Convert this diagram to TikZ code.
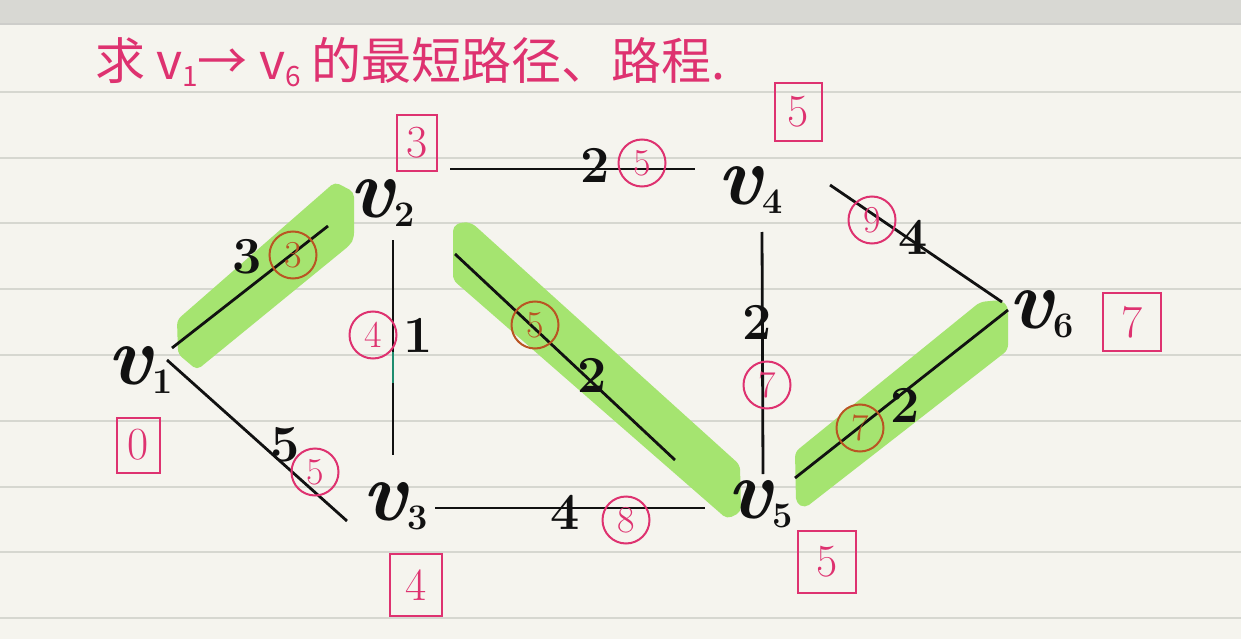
\documentclass[tikz,border=0pt]{standalone}
\usepackage{fontspec}
\newfontfamily\cjk{Noto Sans CJK SC}
\definecolor{paper}{RGB}{245,244,238}
\definecolor{topgray}{RGB}{216,216,211}
\definecolor{rulecol}{RGB}{214,215,208}
\definecolor{pinkink}{RGB}{222,50,112}
\definecolor{brownink}{RGB}{185,85,35}
\definecolor{hl}{RGB}{165,228,112}
\definecolor{ink}{RGB}{17,17,17}
\definecolor{tealink}{RGB}{30,140,110}
\tikzset{
  vlabel/.style={inner sep=0pt, text=ink, font=\fontsize{84}{84}\selectfont\bfseries\itshape},
  wt/.style={inner sep=0pt, text=ink, font=\fontsize{52}{52}\selectfont\bfseries},
  circnum/.style={circle, draw=pinkink, line width=2pt, minimum size=47pt, inner sep=0pt, text=pinkink, font=\fontsize{38}{38}\selectfont},
  circbrown/.style={circnum, draw=brownink, text=brownink},
  boxnum/.style={draw=pinkink, line width=2pt, inner sep=0pt, text=pinkink, font=\fontsize{46}{46}\selectfont},
  edgeline/.style={line width=2.8pt, draw=ink},
  hlband/.style={fill=hl, rounded corners=5pt},
  ruleline/.style={draw=rulecol, line width=2.5pt}
}
\newcommand{\vsub}[1]{{\fontsize{36}{36}\selectfont\upshape\raisebox{-9pt}{#1}}}
\newcommand{\tsub}[1]{{\fontsize{28}{28}\selectfont\raisebox{-7pt}{#1}}}
\begin{document}
\begin{tikzpicture}[x=1pt,y=-1pt]
\useasboundingbox (0,0) rectangle (1241,639);
% paper
\fill[paper] (0,0) rectangle (1241,639);
\fill[topgray] (0,0) rectangle (1241,24);
\draw[draw=rulecol!80!black!60, line width=2.5pt] (0,24) -- (1241,24);
\foreach \yy in {92,158,223,289,355,421,487,552,618}
  \draw[ruleline] (0,\yy) -- (1241,\yy);

% title
\node[anchor=west, inner sep=0pt, text=pinkink, font=\cjk\fontsize{50}{50}\selectfont] (title) at (95,62)
  {求 v\tsub{1}→ v\tsub{6} 的最短路径、路程.};

% highlight bands
\fill[hlband] (177,320) -- (178,354) -- (197,370) -- (350,245) -- (354,238) -- (354,192) -- (335,182) -- cycle;
\fill[hlband] (453,226) -- (462,222) -- (472,223) -- (740,465) -- (741,512) -- (727,519) -- (453,280) -- cycle;
\fill[hlband] (795,452) -- (980,302) -- (1000,300) -- (1008,306) -- (1008,350) -- (805,508) -- (796,503) -- cycle;

% vertices
\node[vlabel] (v1) at (140,370) {v\vsub{1}};
\node[vlabel] (v2) at (382,203) {v\vsub{2}};
\node[vlabel] (v3) at (395,506) {v\vsub{3}};
\node[vlabel] (v4) at (750,190) {v\vsub{4}};
\node[vlabel] (v5) at (760,504) {v\vsub{5}};
\node[vlabel] (v6) at (1041,314) {v\vsub{6}};

% edge end points
\coordinate (e12a) at (172,348); \coordinate (e12b) at (328,226);
\coordinate (e13a) at (167,360); \coordinate (e13b) at (347,521);
\coordinate (e23a) at (393,240); \coordinate (e23b) at (393,455);
\coordinate (e23t) at (393,352); \coordinate (e23u) at (393,383);
\coordinate (e24a) at (450,169); \coordinate (e24b) at (695,169);
\coordinate (e25a) at (455,254); \coordinate (e25b) at (675,460);
\coordinate (e35a) at (435,508); \coordinate (e35b) at (705,508);
\coordinate (e45a) at (762,232); \coordinate (e45b) at (763,474);
\coordinate (e46a) at (830,185); \coordinate (e46b) at (1002,302);
\coordinate (e56a) at (795,478); \coordinate (e56b) at (1008,310);

\draw[edgeline] (e12a) -- (e12b);
\draw[edgeline] (e13a) -- (e13b);
\draw[edgeline] (e23a) -- (e23b);
\draw[edgeline, draw=tealink] (e23t) -- (e23u);
\draw[edgeline] (e24a) -- (e24b);
\draw[edgeline] (e25a) -- (e25b);
\draw[edgeline] (e35a) -- (e35b);
\draw[edgeline] (e45a) -- (e45b);
\draw[edgeline] (e46a) -- (e46b);
\draw[edgeline] (e56a) -- (e56b);

% edge weights and tentative distances
\node[wt] (w12) at (247,257) {3};
\node[circbrown] (c12) at (293,255) {3};
\node[wt] (w13) at (285,445) {5};
\node[circnum] (c13) at (315,472) {5};
\node[circnum] (c23) at (373,335) {4};
\node[wt] (w23) at (418,335) {1};
\node[wt] (w24) at (595,165) {2};
\node[circnum] (c24) at (642,163) {5};
\node[circbrown] (c25) at (535,325) {5};
\node[wt] (w25) at (592,375) {2};
\node[wt] (w45) at (757,322) {2};
\node[circnum] (c45) at (767,385) {7};
\node[wt] (w35) at (565,512) {4};
\node[circnum] (c35) at (626,520) {8};
\node[circnum] (c46) at (872,220) {9};
\node[wt] (w46) at (913,237) {4};
\node[circbrown] (c56) at (860,428) {7};
\node[wt] (w56) at (905,405) {2};

% final distances
\node[boxnum, minimum width=43pt, minimum height=55pt] (d1) at (138,445) {0};
\node[boxnum, minimum width=40pt, minimum height=56pt] (d2) at (417,143) {3};
\node[boxnum, minimum width=52pt, minimum height=62pt] (d3) at (416,585) {4};
\node[boxnum, minimum width=47pt, minimum height=58pt] (d4) at (798,112) {5};
\node[boxnum, minimum width=58pt, minimum height=62pt] (d5) at (827,562) {5};
\node[boxnum, minimum width=58pt, minimum height=58pt] (d6) at (1132,322) {7};
\end{tikzpicture}
\end{document}
